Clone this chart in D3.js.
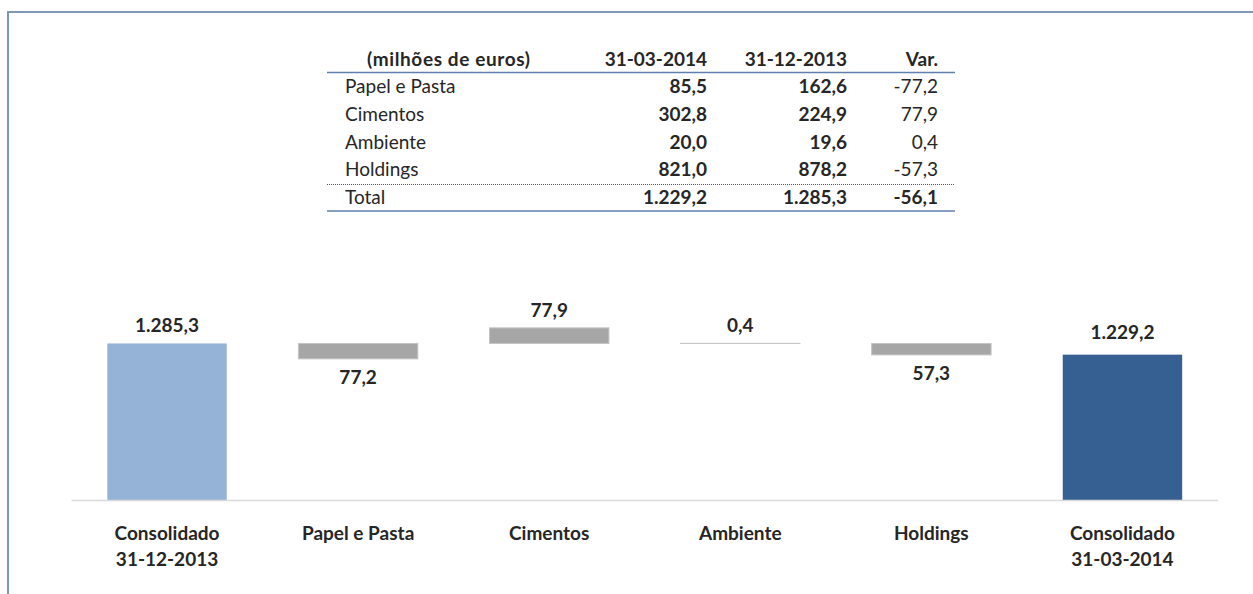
<!DOCTYPE html>
<html>
<head>
<meta charset="utf-8">
<script src="https://cdn.jsdelivr.net/npm/d3@7"></script>
<style>
  body { margin: 0; background: #fff; }
  svg { display: block; font-family: Lato, "Liberation Sans", sans-serif; }
</style>
</head>
<body>
<svg id="chart" width="1253" height="594"></svg>
<script>
// table data
var tableHeader = ["(milhões de euros)", "31-03-2014", "31-12-2013", "Var."];
var tableRows = ["Papel e Pasta", "Cimentos", "Ambiente", "Holdings"];
var mar14 = [85.5, 302.8, 20.0, 821.0];
var dec13 = [162.6, 224.9, 19.6, 878.2];
var variation = [-77.2, 77.9, 0.4, -57.3];
var totalRow = ["Total", 1229.2, 1285.3, -56.1];

// waterfall data
var categories = [["Consolidado", "31-12-2013"], ["Papel e Pasta"], ["Cimentos"], ["Ambiente"], ["Holdings"], ["Consolidado", "31-03-2014"]];
var barValues = [1285.3, -77.2, 77.9, 0.4, -57.3, 1229.2];

var pt = d3.formatLocale({ decimal: ",", thousands: ".", grouping: [3], currency: ["", "€"], minus: "-" });
var fmt = pt.format(",.1f");

var svg = d3.select("#chart");
var textColor = "#262626";

// frame
svg.append("path")
    .attr("d", "M8,594V12H1253")
    .attr("fill", "none")
    .attr("stroke", "#7f96b5")
    .attr("stroke-width", 2);

// ---- table ----
var tbl = svg.append("g");
var colRight = [null, 707, 847, 938];
var rowY = d3.scalePoint().domain(d3.range(5)).range([93, 204]);
var fs = 19;

tbl.append("text")
    .attr("x", 367).attr("y", 66)
    .attr("font-weight", "bold").attr("font-size", fs).attr("fill", textColor)
    .attr("textLength", 163).attr("lengthAdjust", "spacing")
    .text(tableHeader[0]);
tableHeader.slice(1).forEach(function (h, i) {
    tbl.append("text")
        .attr("x", colRight[i + 1]).attr("y", 66)
        .attr("text-anchor", "end")
        .attr("font-weight", "bold").attr("font-size", fs).attr("fill", textColor)
        .text(h);
});

var rows = tableRows.map(function (r, i) { return [r, mar14[i], dec13[i], variation[i]]; });
rows.forEach(function (r, i) {
    var y = rowY(i);
    tbl.append("text").attr("x", 345).attr("y", y)
        .attr("font-size", fs).attr("fill", textColor).text(r[0]);
    [1, 2, 3].forEach(function (c) {
        tbl.append("text").attr("x", colRight[c]).attr("y", y)
            .attr("text-anchor", "end")
            .attr("font-weight", c < 3 ? "bold" : "normal")
            .attr("font-size", fs).attr("fill", textColor)
            .text(fmt(r[c]));
    });
});

tbl.append("text").attr("x", 345).attr("y", rowY(4))
    .attr("font-size", fs).attr("fill", textColor).text(totalRow[0]);
[1, 2, 3].forEach(function (c) {
    tbl.append("text").attr("x", colRight[c]).attr("y", rowY(4))
        .attr("text-anchor", "end").attr("font-weight", "bold")
        .attr("font-size", fs).attr("fill", textColor)
        .text(fmt(totalRow[c]));
});

tbl.append("line").attr("x1", 327).attr("x2", 955).attr("y1", 72.5).attr("y2", 72.5)
    .attr("stroke", "#5f7fae").attr("stroke-width", 1.5);
tbl.append("line").attr("x1", 327).attr("x2", 955).attr("y1", 184.5).attr("y2", 184.5)
    .attr("stroke", "#555").attr("stroke-width", 1).attr("stroke-dasharray", "1,1");
tbl.append("line").attr("x1", 327).attr("x2", 955).attr("y1", 211).attr("y2", 211)
    .attr("stroke", "#5f7fae").attr("stroke-width", 1.5);

// ---- waterfall ----
var x = d3.scaleBand()
    .domain(d3.range(categories.length))
    .range([71.5, 1218])
    .paddingInner(0.375)
    .paddingOuter(0.1875);

var y = d3.scaleLinear().domain([500, 1300]).range([500.5, 340.5]);

var start = barValues[0];
var bars = barValues.map(function (v, i) {
    if (i === 0 || i === barValues.length - 1) return { i: i, v: v, y0: 500, y1: v, total: true };
    return { i: i, v: v, y0: start, y1: start + v, total: false };
});

var colors = ["#95b3d7", "#a6a6a6", "#a6a6a6", "#a6a6a6", "#a6a6a6", "#376092"];

svg.append("g").selectAll("rect")
    .data(bars)
    .join("rect")
    .attr("x", function (d) { return x(d.i); })
    .attr("width", x.bandwidth())
    .attr("y", function (d) { return y(Math.max(d.y0, d.y1)); })
    .attr("height", function (d) { return Math.abs(y(d.y0) - y(d.y1)); })
    .attr("fill", function (d) { return colors[d.i]; })
    .attr("stroke", function (d) { return d.total ? "none" : "#c4c4c4"; })
    .attr("stroke-width", 1);

// baseline
svg.append("line")
    .attr("x1", x.range()[0]).attr("x2", x.range()[1])
    .attr("y1", y(500)).attr("y2", y(500))
    .attr("stroke", "#d9d9d9").attr("stroke-width", 1.5);

// value labels
svg.append("g").selectAll("text")
    .data(bars)
    .join("text")
    .attr("x", function (d) { return x(d.i) + x.bandwidth() / 2; })
    .attr("y", function (d) {
        if (d.v < 0) return y(Math.min(d.y0, d.y1)) + 25;
        return y(Math.max(d.y0, d.y1)) - (d.i === 5 ? 16 : 11);
    })
    .attr("text-anchor", "middle")
    .attr("font-weight", "bold").attr("font-size", fs).attr("fill", textColor)
    .text(function (d) { return fmt(Math.abs(d.v)); });

// category labels
var cat = svg.append("g").selectAll("text")
    .data(categories)
    .join("text")
    .attr("x", function (d, i) { return x(i) + x.bandwidth() / 2; })
    .attr("y", 540)
    .attr("text-anchor", "middle")
    .attr("font-weight", "bold").attr("font-size", fs).attr("fill", textColor);
cat.selectAll("tspan")
    .data(function (d) { return d; })
    .join("tspan")
    .attr("x", function () { return this.parentNode.getAttribute("x"); })
    .attr("dy", function (d, i) { return i === 0 ? 0 : 26; })
    .text(function (d) { return d; });
</script>
</body>
</html>
